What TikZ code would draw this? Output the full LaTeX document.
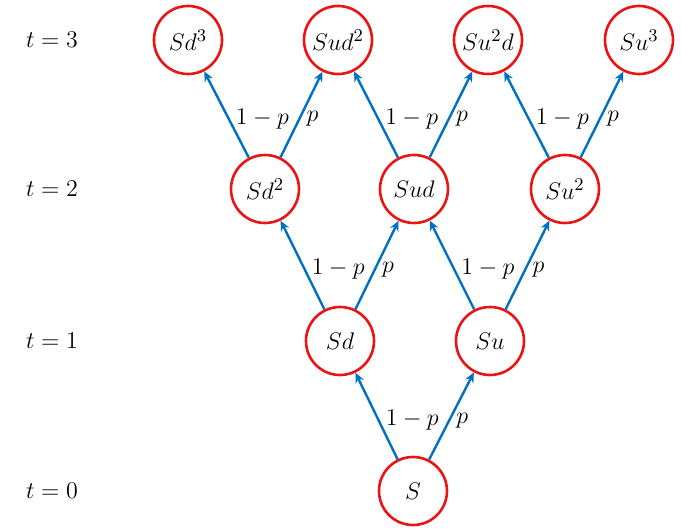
\documentclass[tikz,border=0pt]{standalone}
\usetikzlibrary{arrows.meta}
\definecolor{edgeblue}{RGB}{0,112,192}
\definecolor{nodered}{RGB}{235,20,20}
\begin{document}
\begin{tikzpicture}[x=0.5pt,y=-0.5pt,
  st/.style={circle,draw=nodered,line width=1.3pt,minimum size=34pt,inner sep=0pt,font=\fontsize{12.5}{15}\selectfont},
  ed/.style={draw=edgeblue,line width=1.2pt,-{Stealth[length=5pt,width=4.5pt]}},
  lb/.style={font=\fontsize{11.5}{14}\selectfont,right,inner sep=3pt},
  tl/.style={font=\fontsize{12.5}{15}\selectfont}]
\useasboundingbox (0,0) rectangle (681,530);
\node[tl] (t3) at (52,40) {$t=3$};
\node[tl] (t2) at (52,189) {$t=2$};
\node[tl] (t1) at (52,341) {$t=1$};
\node[tl] (t0) at (52,491) {$t=0$};
\node[st] (S) at (413,491) {$S$};
\node[st] (Sd) at (340,341) {$Sd$};
\node[st] (Su) at (490,341) {$Su$};
\node[st] (Sdd) at (265,189) {$Sd^2$};
\node[st] (Sud) at (414,189) {$Sud$};
\node[st] (Suu) at (565,189) {$Su^2$};
\node[st] (Sddd) at (188,40) {$Sd^3$};
\node[st] (Sudd) at (338,40) {$Sud^2$};
\node[st] (Suud) at (488,40) {$Su^2d$};
\node[st] (Suuu) at (639,40) {$Su^3$};
\foreach \a/\l/\r in {S/Sd/Su, Sd/Sdd/Sud, Su/Sud/Suu, Sdd/Sddd/Sudd, Sud/Sudd/Suud, Suu/Suud/Suuu}{
  \draw[ed] (\a) -- node[lb,pos=0.45] {$1-p$} (\l);
  \draw[ed] (\a) -- node[lb,pos=0.45] {$p$} (\r);
}
\end{tikzpicture}
\end{document}
